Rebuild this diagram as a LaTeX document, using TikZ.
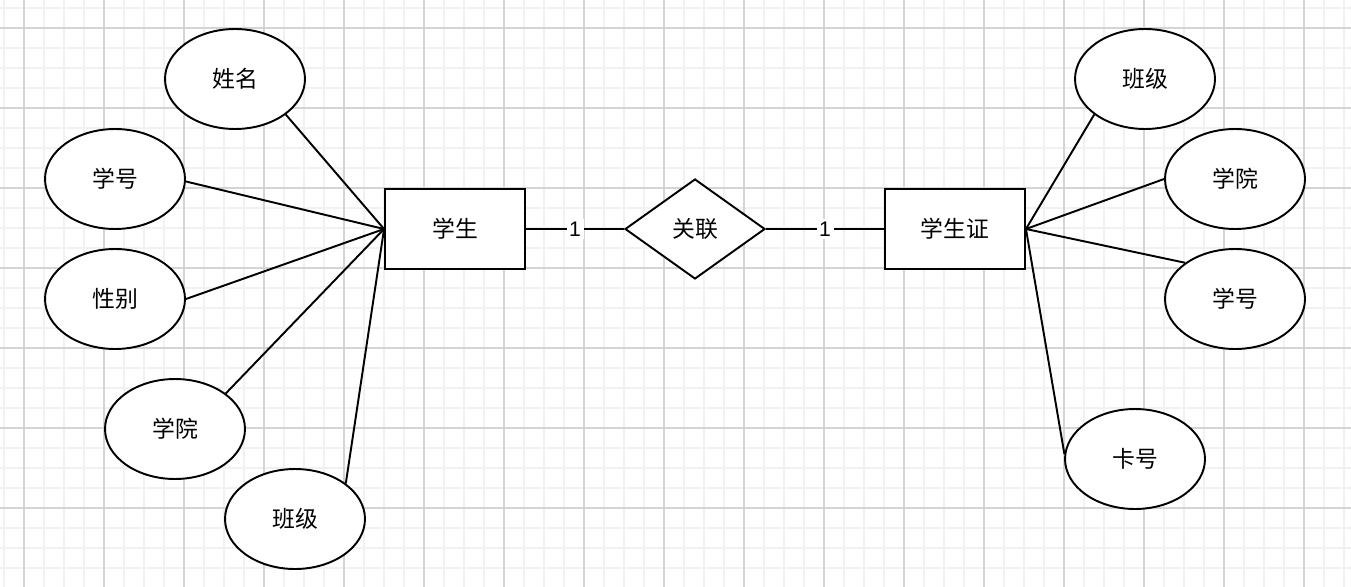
\documentclass[tikz,border=0pt]{standalone}
\usepackage{fontspec}
\setmainfont{Liberation Sans}
\newfontfamily\cjk{Noto Sans CJK SC}
\usetikzlibrary{shapes.geometric}
\definecolor{GridMinor}{HTML}{F1F1F1}
\definecolor{GridMajor}{HTML}{D4D4D4}

\begin{document}
\begin{tikzpicture}[x=0.02cm,y=-0.02cm,
    attr/.style={draw,ellipse,line width=1.1pt,fill=white,inner sep=0pt,minimum width=2.8cm,minimum height=2cm,font=\cjk\fontsize{13}{15}\selectfont},
    entity/.style={draw,rectangle,line width=1.1pt,fill=white,inner sep=0pt,minimum width=2.8cm,minimum height=1.6cm,font=\cjk\fontsize{13}{15}\selectfont},
    rel/.style={draw,diamond,line width=1.1pt,fill=white,inner sep=0pt,minimum width=2.8cm,minimum height=2cm,font=\cjk\fontsize{13}{15}\selectfont},
    link/.style={line width=1.1pt},
    card/.style={fill=white,inner sep=1.5pt,font=\fontsize{12}{13}\selectfont}]
    \useasboundingbox (0,0) rectangle (1351,587);
    \fill[white] (0,0) rectangle (1351,587);
    % grid
    \foreach \x in {4,24,...,1344} \draw[GridMinor,line width=0.6pt] (\x,0) -- (\x,587);
    \foreach \y in {8,28,...,580} \draw[GridMinor,line width=0.6pt] (0,\y) -- (1351,\y);
    \foreach \x in {24,104,...,1344} \draw[GridMajor,line width=0.6pt] (\x,0) -- (\x,587);
    \foreach \y in {28,108,...,580} \draw[GridMajor,line width=0.6pt] (0,\y) -- (1351,\y);

    % entities and relation
    \node[entity] (student) at (455,229) {学生};
    \node[rel] (assoc) at (695,229) {关联};
    \node[entity] (card) at (955,229) {学生证};

    % attributes of student
    \node[attr] (sname) at (235,79) {姓名};
    \node[attr] (sid) at (115,179) {学号};
    \node[attr] (sex) at (115,299) {性别};
    \node[attr] (sdept) at (175,429) {学院};
    \node[attr] (sclass) at (295,519) {班级};

    % attributes of card
    \node[attr] (cclass) at (1145,79) {班级};
    \node[attr] (cdept) at (1235,179) {学院};
    \node[attr] (cid) at (1235,299) {学号};
    \node[attr] (cno) at (1135,459) {卡号};

    \foreach \a/\ang in {sname/-35.6,sid/-2,sex/0,sdept/35.6,sclass/35.6}
      \draw[link] (student.west) -- (\a.\ang);
    \foreach \a/\ang in {cclass/215.6,cdept/180,cid/144.4,cno/176}
      \draw[link] (card.east) -- (\a.\ang);

    \draw[link] (student) -- node[card] {1} (assoc);
    \draw[link] (assoc) -- node[card] {1} (card);
\end{tikzpicture}
\end{document}
